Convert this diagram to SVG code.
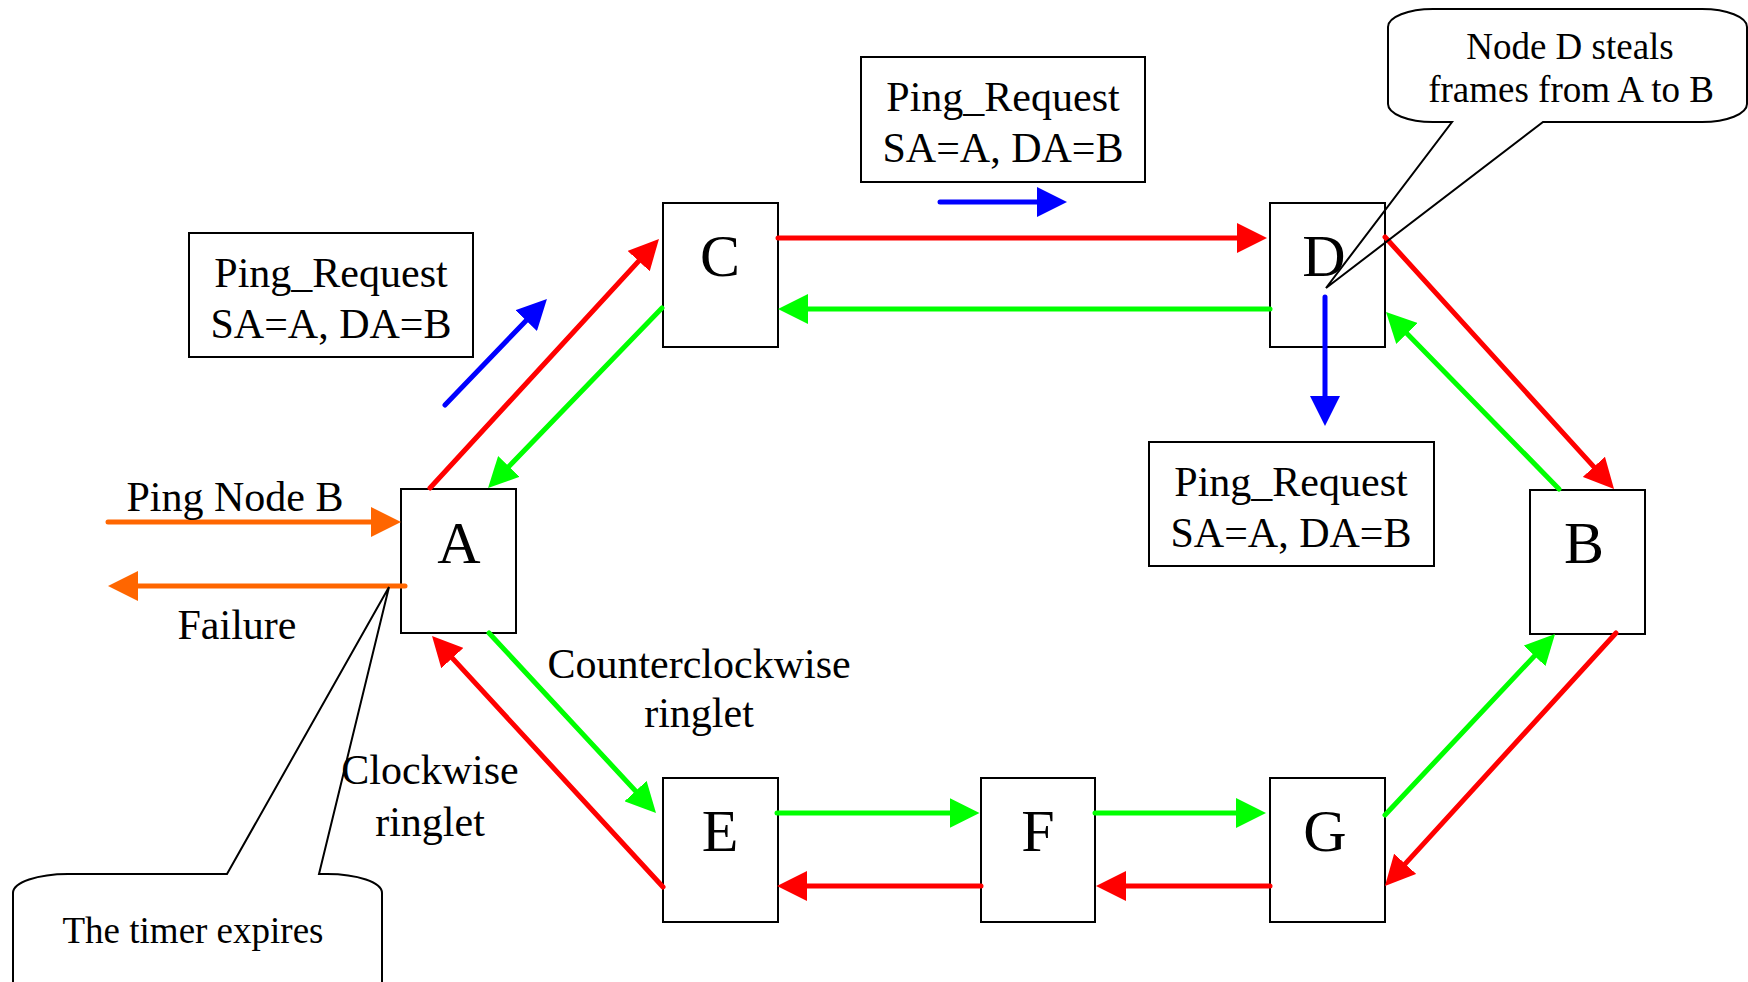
<svg xmlns="http://www.w3.org/2000/svg" width="1748" height="982" viewBox="0 0 1748 982">
  <style>
    .box { fill: #ffffff; stroke: #000000; stroke-width: 2; }
    .lbl { font-family: "Liberation Serif", "Times New Roman", serif; fill: #000000; text-anchor: middle; }
    .node { font-size: 60px; }
    .t42 { font-size: 42px; }
    .t37 { font-size: 37px; }
    .call { fill: none; stroke: #000000; stroke-width: 2; stroke-linejoin: miter; }
    .red { stroke: #ff0000; stroke-width: 5; stroke-linecap: round; fill: none; marker-end: url(#ahR); }
    .green { stroke: #00ff00; stroke-width: 5; stroke-linecap: round; fill: none; marker-end: url(#ahG); }
    .blue { stroke: #0000ff; stroke-width: 5; stroke-linecap: round; fill: none; marker-end: url(#ahB); }
    .orange { stroke: #ff6600; stroke-width: 5; stroke-linecap: round; fill: none; marker-end: url(#ahO); }
  </style>
  <defs>
    <marker id="ahR" markerUnits="userSpaceOnUse" markerWidth="30" markerHeight="30" refX="20" refY="15" orient="auto"><path d="M0,0 L30,15 L0,30 z" fill="#ff0000"/></marker>
    <marker id="ahG" markerUnits="userSpaceOnUse" markerWidth="30" markerHeight="30" refX="20" refY="15" orient="auto"><path d="M0,0 L30,15 L0,30 z" fill="#00ff00"/></marker>
    <marker id="ahB" markerUnits="userSpaceOnUse" markerWidth="30" markerHeight="30" refX="20" refY="15" orient="auto"><path d="M0,0 L30,15 L0,30 z" fill="#0000ff"/></marker>
    <marker id="ahO" markerUnits="userSpaceOnUse" markerWidth="30" markerHeight="30" refX="20" refY="15" orient="auto"><path d="M0,0 L30,15 L0,30 z" fill="#ff6600"/></marker>
  </defs>
  <rect width="1748" height="982" fill="#ffffff"/>

  <!-- message boxes -->
  <g id="msg-left">
    <rect class="box" x="189" y="233" width="284" height="124"/>
    <text class="lbl t42" x="331" y="287">Ping_Request</text>
    <text class="lbl t42" x="331" y="338">SA=A, DA=B</text>
  </g>
  <g id="msg-top">
    <rect class="box" x="861" y="57" width="284" height="125"/>
    <text class="lbl t42" x="1003" y="111">Ping_Request</text>
    <text class="lbl t42" x="1003" y="162">SA=A, DA=B</text>
  </g>
  <g id="msg-right">
    <rect class="box" x="1149" y="442" width="285" height="124"/>
    <text class="lbl t42" x="1291" y="496">Ping_Request</text>
    <text class="lbl t42" x="1291" y="547">SA=A, DA=B</text>
  </g>

  <!-- nodes -->
  <g id="node-A"><rect class="box" x="401" y="489" width="115" height="144"/><text class="lbl node" x="459" y="563">A</text></g>
  <g id="node-C"><rect class="box" x="663" y="203" width="115" height="144"/><text class="lbl node" x="720" y="276">C</text></g>
  <g id="node-D"><rect class="box" x="1270" y="203" width="115" height="144"/><text class="lbl node" x="1324" y="276">D</text></g>
  <g id="node-B"><rect class="box" x="1530" y="490" width="115" height="144"/><text class="lbl node" x="1584" y="563">B</text></g>
  <g id="node-E"><rect class="box" x="663" y="778" width="115" height="144"/><text class="lbl node" x="720" y="851">E</text></g>
  <g id="node-F"><rect class="box" x="981" y="778" width="114" height="144"/><text class="lbl node" x="1038" y="851">F</text></g>
  <g id="node-G"><rect class="box" x="1270" y="778" width="115" height="144"/><text class="lbl node" x="1325" y="851">G</text></g>

  <!-- connectors -->
  <g id="connectors">
    <!-- clockwise ringlet (red) -->
    <line class="red" x1="430" y1="488" x2="652.2" y2="246.4"/>
    <line class="red" x1="778" y1="238" x2="1257" y2="238"/>
    <line class="red" x1="1385" y1="237" x2="1607.3" y2="481.6"/>
    <line class="red" x1="1616" y1="633" x2="1391.7" y2="878.6"/>
    <line class="red" x1="1270" y1="886" x2="1106" y2="886"/>
    <line class="red" x1="981" y1="886" x2="787" y2="886"/>
    <line class="red" x1="663" y1="887" x2="438.8" y2="643.4"/>
    <!-- counterclockwise ringlet (green) -->
    <line class="green" x1="1270" y1="309" x2="788" y2="309"/>
    <line class="green" x1="662" y1="308" x2="495" y2="480.8"/>
    <line class="green" x1="489" y1="633" x2="649.2" y2="805.7"/>
    <line class="green" x1="777" y1="813" x2="969.5" y2="813"/>
    <line class="green" x1="1095" y1="813" x2="1256" y2="813"/>
    <line class="green" x1="1385" y1="815" x2="1548.2" y2="641.3"/>
    <line class="green" x1="1559" y1="489" x2="1393" y2="319.2"/>
    <!-- ping request frame (blue) -->
    <line class="blue" x1="445" y1="405" x2="540" y2="306.2"/>
    <line class="blue" x1="940" y1="202" x2="1057" y2="202"/>
    <line class="blue" x1="1325" y1="297" x2="1325" y2="416"/>
    <!-- ping / failure (orange) -->
    <line class="orange" x1="108" y1="522" x2="391" y2="522"/>
    <line class="orange" x1="405" y1="586" x2="118" y2="586"/>
  </g>

  <!-- free labels -->
  <g id="labels">
    <text class="lbl t42" x="235" y="511">Ping Node B</text>
    <text class="lbl t42" x="237" y="639">Failure</text>
    <text class="lbl t42" x="699" y="678">Counterclockwise</text>
    <text class="lbl t42" x="699" y="727">ringlet</text>
    <text class="lbl t42" x="430" y="784">Clockwise</text>
    <text class="lbl t42" x="430" y="836">ringlet</text>
  </g>

  <!-- callouts -->
  <g id="callout-timer">
    <path class="call" d="M13,990 L13,893 A55 19 0 0 1 68,874 L227,874 L389,587 L319,874 L327,874 A55 19 0 0 1 382,893 L382,990"/>
    <text class="lbl t37" x="193" y="943">The timer expires</text>
  </g>
  <g id="callout-steal">
    <path class="call" d="M1433,9 L1702,9 A45 18 0 0 1 1747,27 L1747,104 A45 18 0 0 1 1702,122 L1543,122 L1326,288 L1452,122 L1433,122 A45 18 0 0 1 1388,104 L1388,27 A45 18 0 0 1 1433,9 Z"/>
    <text class="lbl t37" x="1570" y="59">Node D steals</text>
    <text class="lbl t37" x="1571" y="102">frames from A to B</text>
  </g>
</svg>
